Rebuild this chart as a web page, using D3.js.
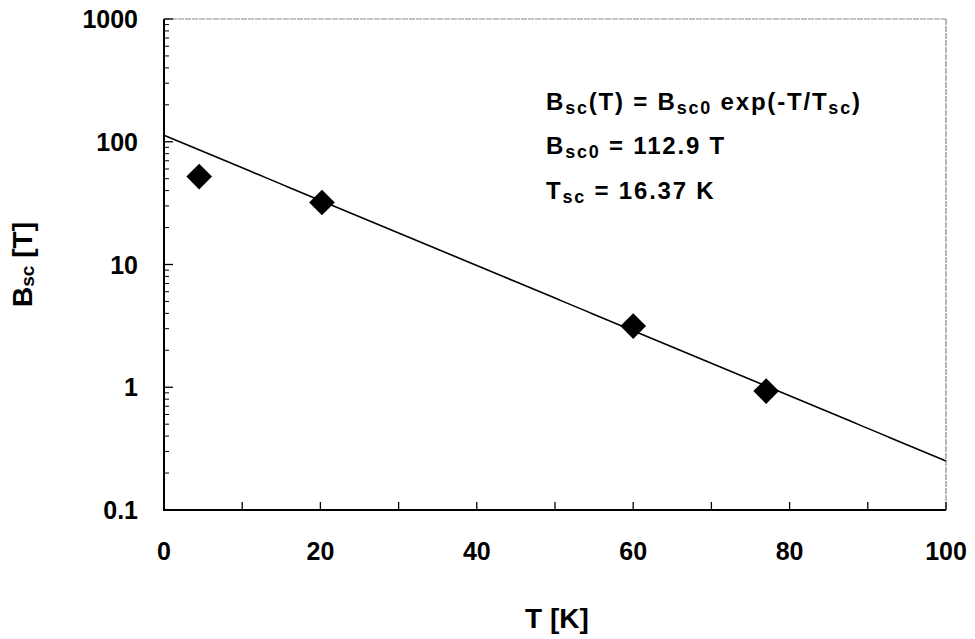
<!DOCTYPE html>
<html>
<head>
<meta charset="utf-8">
<script src="https://cdn.jsdelivr.net/npm/d3@7"></script>
<style>
  html, body { margin: 0; padding: 0; background: #fff; }
  svg { display: block; }
  text { font-family: "Liberation Sans", Arial, sans-serif; font-weight: bold; fill: #000; }
</style>
</head>
<body>
<svg id="chart" width="975" height="639"></svg>
<script>
// ---- data ----
const temperatureK = [4.5, 20.2, 60.0, 77.0];
const bscTesla = [52, 32, 3.15, 0.93];
const fitB0 = 112.9;      // T
const fitTsc = 16.37;     // K
const xTickValues = [0, 20, 40, 60, 80, 100];
const xMinorTickValues = [10, 30, 50, 70, 90];
const yTickValues = [0.1, 1, 10, 100, 1000];
const yTickLabels = ["0.1", "1", "10", "100", "1000"];
const fitSampleT = [0, 100];

// ---- layout ----
const W = 975, H = 639;
const m = { left: 164, right: 29, top: 19, bottom: 129 };
const svg = d3.select("#chart");
const x = d3.scaleLinear().domain([0, 100]).range([m.left, W - m.right]);
const y = d3.scaleLog().domain([0.1, 1000]).range([H - m.bottom, m.top]);

// frame top/right (light)
svg.append("line").attr("x1", x(0)).attr("x2", x(100)).attr("y1", y(1000)).attr("y2", y(1000))
  .attr("stroke", "#888").attr("stroke-width", 1.2).attr("stroke-dasharray", "6,1");
svg.append("line").attr("x1", x(100)).attr("x2", x(100)).attr("y1", y(1000)).attr("y2", y(0.1))
  .attr("stroke", "#888").attr("stroke-width", 1.2).attr("stroke-dasharray", "6,1");

// y minor ticks
const yMinor = [];
for (let d = 0.1; d < 1000; d *= 10) for (let k = 2; k <= 9; k++) yMinor.push(d * k);
svg.append("g").selectAll("line").data(yMinor).join("line")
  .attr("x1", x(0)).attr("x2", x(0) + 5)
  .attr("y1", d => y(d)).attr("y2", d => y(d))
  .attr("stroke", "#000").attr("stroke-width", 1);
// y major ticks
svg.append("g").selectAll("line").data(yTickValues).join("line")
  .attr("x1", x(0)).attr("x2", x(0) + 9)
  .attr("y1", d => y(d)).attr("y2", d => y(d))
  .attr("stroke", "#000").attr("stroke-width", 1.3);
// x ticks
svg.append("g").selectAll("line").data(xMinorTickValues.concat(xTickValues)).join("line")
  .attr("x1", d => x(d)).attr("x2", d => x(d))
  .attr("y1", y(0.1)).attr("y2", y(0.1) - 8)
  .attr("stroke", "#000").attr("stroke-width", 1.3);

// axes lines
svg.append("line").attr("x1", x(0)).attr("x2", x(0)).attr("y1", y(1000)).attr("y2", y(0.1))
  .attr("stroke", "#000").attr("stroke-width", 2);
svg.append("line").attr("x1", x(0) - 1).attr("x2", x(100)).attr("y1", y(0.1)).attr("y2", y(0.1))
  .attr("stroke", "#000").attr("stroke-width", 2);

// tick labels
svg.append("g").selectAll("text").data(yTickValues).join("text")
  .attr("x", x(0) - 26).attr("y", d => y(d) + 9)
  .attr("text-anchor", "end").attr("font-size", 25)
  .text((d, i) => yTickLabels[i]);
svg.append("g").selectAll("text").data(xTickValues).join("text")
  .attr("x", d => x(d)).attr("y", y(0.1) + 50)
  .attr("text-anchor", "middle").attr("font-size", 25)
  .text(d => d);

// axis titles
svg.append("text").attr("x", x(50) + 2).attr("y", 628).attr("text-anchor", "middle")
  .attr("font-size", 28).text("T [K]");
const yt = svg.append("text").attr("transform", `translate(32,${y(10)}) rotate(-90)`)
  .attr("text-anchor", "middle").attr("font-size", 28);
yt.append("tspan").text("B");
yt.append("tspan").attr("font-size", 19).attr("dy", 2).text("sc");
yt.append("tspan").attr("dy", -2).text(" [T]");

// fit line
const fitLine = d3.line().x(d => x(d)).y(d => y(fitB0 * Math.exp(-d / fitTsc)));
const tSamples = d3.range(fitSampleT[0], fitSampleT[1] + 0.5, 1);
svg.append("path").datum(tSamples).attr("d", fitLine)
  .attr("fill", "none").attr("stroke", "#000").attr("stroke-width", 1.6);

// data markers (diamonds)
const diamond = d3.symbol().type(d3.symbolSquare).size(330);
svg.append("g").selectAll("path").data(temperatureK).join("path")
  .attr("transform", (d, i) => `translate(${x(d)},${y(bscTesla[i])}) rotate(45)`)
  .attr("d", diamond).attr("fill", "#000");

// annotation
function addLine(parts, yy) {
  const t = svg.append("text").attr("x", 546).attr("y", yy).attr("font-size", 24)
    .attr("letter-spacing", 1.8);
  parts.forEach(p => {
    const s = t.append("tspan").text(p.t);
    if (p.sub) s.attr("font-size", 18).attr("dy", 3.5);
    if (p.up) s.attr("dy", -3.5);
  });
}
addLine([{t:"B"},{t:"sc",sub:true},{t:"(T) = B",up:true},{t:"sc0",sub:true},{t:" exp(-T/T",up:true},{t:"sc",sub:true},{t:")",up:true}], 110);
addLine([{t:"B"},{t:"sc0",sub:true},{t:" = 112.9 T",up:true}], 154);
addLine([{t:"T"},{t:"sc",sub:true},{t:" = 16.37 K",up:true}], 199);
</script>
</body>
</html>
